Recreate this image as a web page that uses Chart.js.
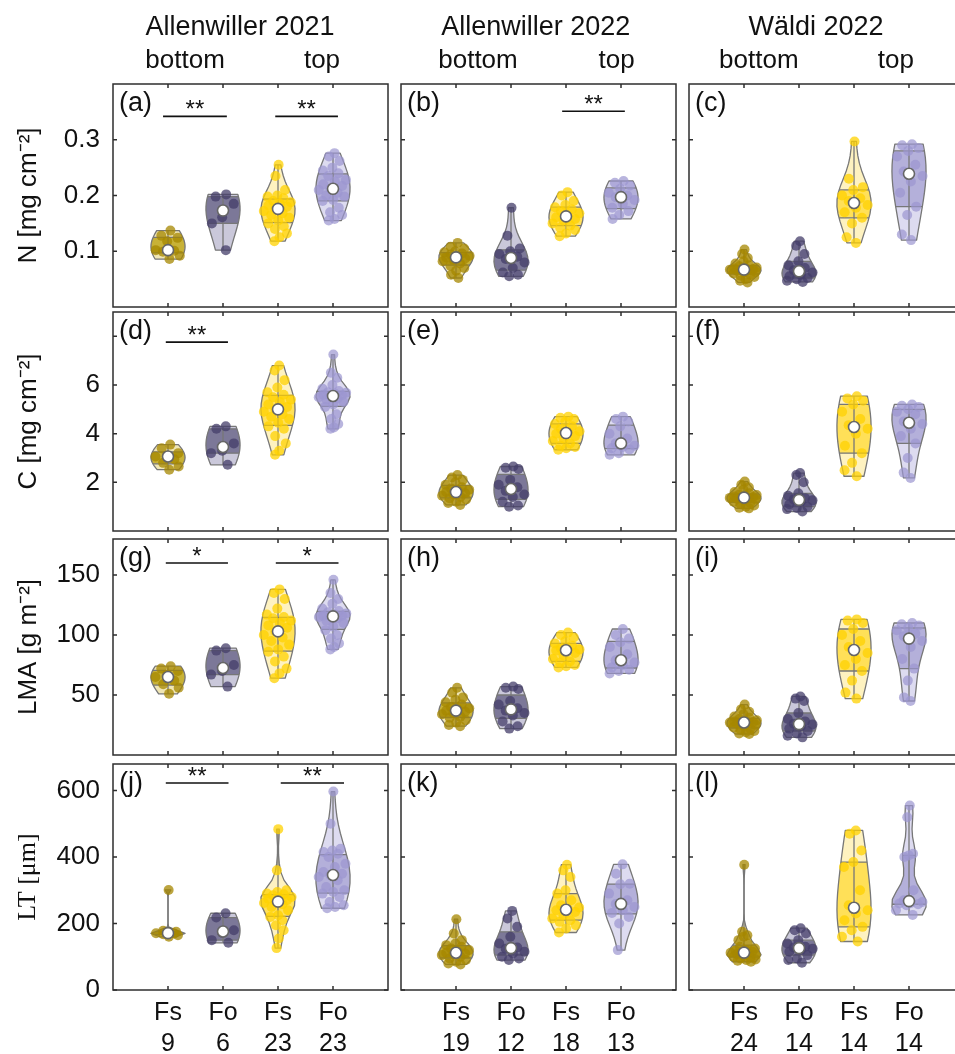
<!DOCTYPE html>
<html>
<head>
<meta charset="utf-8">
<script src="https://cdn.jsdelivr.net/npm/chart.js@4.4.0/dist/chart.umd.min.js"></script>
<style>
  html, body { margin: 0; padding: 0; background: #fff; width: 955px; height: 1054px; overflow: hidden; }
  canvas { position: absolute; }
</style>
</head>
<body>
<script>
// ----------------------- DATA -----------------------
// each panel: [Fs bottom, Fo bottom, Fs top, Fo top]
const groups = ["Fs", "Fo", "Fs", "Fo"];
const counts = [[9, 6, 23, 23], [19, 12, 18, 13], [24, 14, 14, 14]];
const siteTitles = ["Allenwiller 2021", "Allenwiller 2022", "Wäldi 2022"];
const yTitles = ["N [mg cm⁻²]", "C [mg cm⁻²]", "LMA [g m⁻²]", "LT [μm]"];
const yRanges = [[0, 0.4], [0, 9], [0, 180], [0, 680]];
const yTicks = [[0.1, 0.2, 0.3], [2, 4, 6, 8], [50, 100, 150], [0, 200, 400, 600]];
const yTickLabels = [["0.1", "0.2", "0.3"], ["2", "4", "6", ""], ["50", "100", "150"], ["0", "200", "400", "600"]];
const panelLetters = [["(a)", "(b)", "(c)"], ["(d)", "(e)", "(f)"], ["(g)", "(h)", "(i)"], ["(j)", "(k)", "(l)"]];

// significance bars: row, col, x from, x to, y value, stars
const sigBars = [
  [0, 0, 0.91, 2.07, 0.342, "**"],
  [0, 0, 2.95, 4.09, 0.342, "**"],
  [0, 1, 2.93, 4.07, 0.351, "**"],
  [1, 0, 0.96, 2.09, 7.76, "**"],
  [2, 0, 0.96, 2.09, 160, "*"],
  [2, 0, 2.96, 4.10, 160, "*"],
  [3, 0, 0.96, 2.10, 623, "**"],
  [3, 0, 3.05, 4.20, 623, "**"],
];

const N_A21 = [
  [0.137, 0.128, 0.124, 0.118, 0.102, 0.101, 0.099, 0.092, 0.086],
  [0.202, 0.198, 0.185, 0.161, 0.150, 0.102],
  [0.255, 0.235, 0.210, 0.200, 0.198, 0.195, 0.190, 0.188, 0.185, 0.182, 0.180, 0.176, 0.172, 0.168, 0.165, 0.160, 0.155, 0.150, 0.145, 0.140, 0.132, 0.125, 0.118],
  [0.276, 0.270, 0.262, 0.250, 0.245, 0.240, 0.235, 0.228, 0.225, 0.220, 0.217, 0.212, 0.210, 0.205, 0.200, 0.198, 0.192, 0.190, 0.178, 0.170, 0.165, 0.158, 0.155],
];
const N_A22 = [
  [0.115, 0.108, 0.105, 0.100, 0.098, 0.096, 0.094, 0.092, 0.090, 0.089, 0.087, 0.085, 0.082, 0.078, 0.074, 0.070, 0.065, 0.058, 0.052],
  [0.178, 0.128, 0.105, 0.100, 0.095, 0.090, 0.086, 0.080, 0.070, 0.062, 0.058, 0.055],
  [0.206, 0.200, 0.190, 0.183, 0.179, 0.175, 0.172, 0.168, 0.164, 0.161, 0.158, 0.155, 0.150, 0.146, 0.142, 0.138, 0.132, 0.127],
  [0.226, 0.223, 0.218, 0.212, 0.205, 0.200, 0.197, 0.192, 0.185, 0.178, 0.172, 0.165, 0.158],
];
const N_W22 = [
  [0.103, 0.095, 0.088, 0.082, 0.078, 0.075, 0.073, 0.071, 0.070, 0.069, 0.068, 0.067, 0.067, 0.066, 0.065, 0.063, 0.062, 0.060, 0.058, 0.056, 0.054, 0.050, 0.047, 0.044],
  [0.118, 0.110, 0.095, 0.082, 0.075, 0.070, 0.066, 0.062, 0.058, 0.055, 0.052, 0.050, 0.047, 0.045],
  [0.297, 0.230, 0.215, 0.210, 0.200, 0.195, 0.190, 0.183, 0.178, 0.170, 0.160, 0.150, 0.125, 0.115],
  [0.292, 0.290, 0.285, 0.280, 0.270, 0.255, 0.243, 0.235, 0.225, 0.205, 0.180, 0.165, 0.130, 0.120],
];

const C_A21 = [
  [3.55, 3.40, 3.20, 3.10, 3.06, 2.95, 2.80, 2.65, 2.52],
  [4.30, 4.20, 3.60, 3.30, 3.20, 2.72],
  [6.80, 6.60, 6.20, 5.90, 5.70, 5.60, 5.50, 5.40, 5.30, 5.20, 5.10, 5.00, 4.90, 4.80, 4.70, 4.60, 4.45, 4.30, 4.20, 3.90, 3.60, 3.30, 3.13],
  [7.25, 6.50, 6.30, 6.00, 5.85, 5.75, 5.70, 5.68, 5.65, 5.60, 5.58, 5.55, 5.50, 5.45, 5.40, 5.30, 5.20, 5.10, 4.80, 4.60, 4.40, 4.25, 4.20],
];
const C_A22 = [
  [2.30, 2.20, 2.10, 2.00, 1.90, 1.80, 1.75, 1.70, 1.65, 1.60, 1.55, 1.50, 1.45, 1.40, 1.35, 1.30, 1.20, 1.15, 1.07],
  [2.65, 2.60, 2.55, 2.10, 1.90, 1.80, 1.65, 1.50, 1.40, 1.20, 1.05, 1.00],
  [4.70, 4.65, 4.60, 4.50, 4.40, 4.30, 4.20, 4.10, 4.05, 4.00, 3.90, 3.80, 3.70, 3.60, 3.50, 3.45, 3.40, 3.34],
  [4.70, 4.60, 4.50, 4.30, 4.00, 3.80, 3.60, 3.50, 3.45, 3.40, 3.35, 3.20, 3.13],
];
const C_W22 = [
  [2.03, 1.90, 1.80, 1.70, 1.60, 1.55, 1.50, 1.48, 1.45, 1.42, 1.40, 1.38, 1.36, 1.34, 1.32, 1.30, 1.25, 1.20, 1.15, 1.10, 1.05, 1.00, 0.96, 0.93],
  [2.38, 2.30, 2.00, 1.55, 1.45, 1.35, 1.30, 1.26, 1.20, 1.10, 1.00, 0.95, 0.90, 0.80],
  [5.54, 5.45, 5.35, 5.20, 4.90, 4.60, 4.35, 4.20, 4.00, 3.50, 3.20, 2.80, 2.50, 2.25],
  [5.20, 5.15, 5.10, 5.00, 4.90, 4.80, 4.50, 4.40, 4.20, 3.90, 3.60, 3.00, 2.40, 2.18],
];

const LMA_A21 = [
  [74, 72, 70, 67, 65, 62, 59, 56, 51],
  [89, 87, 75, 70, 67, 57],
  [138, 135, 130, 122, 117, 115, 114, 112, 110, 108, 106, 103, 100, 98, 95, 92, 88, 86, 82, 78, 72, 68, 64],
  [146, 135, 130, 126, 122, 120, 119, 118, 117, 116, 116, 115.5, 115, 114, 112, 110, 107, 104, 100, 97, 93, 90, 88],
];
const LMA_A22 = [
  [56, 52, 48, 46, 44, 42, 40, 39, 38, 37, 36, 35, 34, 32, 31, 29, 27, 25, 24],
  [57, 56, 55, 45, 42, 39, 37, 35, 33, 28, 24, 22],
  [102, 100, 98, 95, 93, 91, 89, 88, 87.5, 87, 85, 83, 80, 78, 77, 75, 74, 73],
  [105, 100, 97, 94, 90, 84, 79, 77, 75, 73, 71, 70, 68],
];
const LMA_W22 = [
  [42, 38, 36, 34, 32, 31, 30, 29, 28.5, 28, 27.5, 27.2, 27, 26.5, 26, 25, 24, 23, 22, 21, 20, 19, 18, 17.5],
  [48.8, 47, 45, 35, 30, 28, 26, 25.5, 24, 22, 20, 18, 16, 14.7],
  [113, 112, 110, 105, 100, 95, 90, 85, 80, 75, 70, 62, 52, 47],
  [110, 109, 108, 106, 104, 101, 99, 95, 90, 80, 72, 62, 48, 45],
];

const LT_A21 = [
  [301, 178, 175, 173, 171, 170, 168, 165, 160],
  [231, 218, 180, 172, 150, 142],
  [484, 360, 300, 295, 290, 288, 285, 280, 278, 275, 270, 266, 262, 258, 250, 240, 225, 220, 210, 195, 180, 155, 126],
  [597, 500, 425, 420, 415, 410, 400, 380, 370, 355, 350, 346, 340, 330, 310, 300, 295, 290, 280, 265, 255, 250, 246],
];
const LT_A22 = [
  [213, 170, 150, 140, 135, 130, 125, 120, 115, 112, 110, 108, 105, 100, 95, 90, 85, 80, 77],
  [238, 215, 190, 160, 140, 128, 124, 115, 110, 100, 95, 90],
  [377, 360, 340, 300, 290, 270, 255, 248, 243, 240, 235, 225, 215, 210, 205, 195, 185, 173],
  [378, 350, 320, 318, 290, 270, 259, 250, 240, 232, 220, 200, 120],
];
const LT_W22 = [
  [377, 175, 165, 160, 150, 140, 130, 125, 120, 118, 115, 113, 112, 110, 108, 105, 102, 100, 98, 95, 92, 90, 88, 85],
  [186, 180, 170, 150, 140, 130, 128, 124, 120, 115, 105, 95, 90, 82],
  [480, 470, 420, 385, 370, 300, 255, 240, 230, 210, 190, 180, 160, 146],
  [555, 520, 410, 405, 400, 300, 270, 265, 262, 260, 258, 255, 240, 226],
];

const panels = [
  [N_A21, N_A22, N_W22],
  [C_A21, C_A22, C_W22],
  [LMA_A21, LMA_A22, LMA_W22],
  [LT_A21, LT_A22, LT_W22],
];

// ----------------------- LOOK -----------------------
const SANS = '"Liberation Sans", Arial, sans-serif';
const SERIF = '"Liberation Serif", "Times New Roman", serif';
const TXT = "#111";
const FRAME = "#2e2e2e";
const VLINE = "#777";
const PAL = [
  { light: "rgb(240,230,180)", dark: "rgb(200,178,55)", dot: "rgba(165,135,0,0.75)" },
  { light: "rgb(202,200,218)", dark: "rgb(124,120,152)", dot: "rgba(68,62,106,0.75)" },
  { light: "rgb(254,242,192)", dark: "rgb(255,224,88)", dot: "rgba(255,210,0,0.75)" },
  { light: "rgb(221,219,240)", dark: "rgb(180,176,218)", dot: "rgba(155,150,208,0.7)" },
];
const COL_LEFT = [113, 401, 689];
const ROW_TOP = [84, 312, 539, 764];
const ROW_H = [223, 219, 216, 226];
const BOX_W = 275;
const HALF_W = 0.31; // max violin half width in x units
const BW_SCALE = 1.5; // smoother than the plain rule-of-thumb bandwidth
const N_SEG = 14;
// header positions (x units) per column: title, bottom, top
const headPos = [[2.31, 1.31, 3.8], [2.45, 1.4, 3.92], [2.31, 1.27, 3.76]];

// ----------------------- UTIL -----------------------
function quantile(vals, p) {
  const s = [...vals].sort((a, b) => a - b), n = s.length;
  const pos = p * n - 0.5;
  if (pos <= 0) return s[0];
  if (pos >= n - 1) return s[n - 1];
  const i = Math.floor(pos);
  return s[i] + (pos - i) * (s[i + 1] - s[i]);
}

// ksdensity-style bandwidth
function bandwidth(vals) {
  const med = quantile(vals, 0.5);
  let sig = quantile(vals.map((v) => Math.abs(v - med)), 0.5) / 0.6745;
  if (!sig) {
    const m = vals.reduce((a, b) => a + b, 0) / vals.length;
    sig = Math.sqrt(vals.reduce((a, v) => a + (v - m) ** 2, 0) / vals.length) || 1;
  }
  return BW_SCALE * sig * Math.pow(4 / (3 * vals.length), 0.2);
}

function violinShape(vals) {
  const s = [...vals].sort((a, b) => a - b);
  const lo = s[0], hi = s[s.length - 1];
  const bw = bandwidth(s);
  const dens = (t) => s.reduce((acc, v) => acc + Math.exp(-0.5 * ((t - v) / bw) ** 2), 0);
  const grid = [];
  for (let i = 0; i <= N_SEG; i++) grid.push(lo + ((hi - lo) * i) / N_SEG);
  const d = grid.map(dens);
  const dmax = Math.max(...d);
  const halves = d.map((v) => (HALF_W * v) / dmax);
  const halfAt = (t) => {
    if (t <= lo) return halves[0];
    if (t >= hi) return halves[N_SEG];
    const f = ((t - lo) / (hi - lo)) * N_SEG;
    const i = Math.min(Math.floor(f), N_SEG - 1);
    return halves[i] + (f - i) * (halves[i + 1] - halves[i]);
  };
  return { lo, hi, grid, halfAt, q1: quantile(s, 0.25), med: quantile(s, 0.5), q3: quantile(s, 0.75) };
}

function tracePath(ctx, x, y, pos, s, a, b) {
  const ts = [a, ...s.grid.filter((t) => t > a && t < b), b];
  ctx.beginPath();
  ts.forEach((t, i) => {
    const px = x.getPixelForValue(pos + s.halfAt(t)), py = y.getPixelForValue(t);
    if (i) ctx.lineTo(px, py); else ctx.moveTo(px, py);
  });
  for (let i = ts.length - 1; i >= 0; i--) {
    ctx.lineTo(x.getPixelForValue(pos - s.halfAt(ts[i])), y.getPixelForValue(ts[i]));
  }
  ctx.closePath();
}

// deterministic spread of dots inside the violin
const jit = (k) => (((k + 1) * 0.618034) % 1) * 2 - 1;

// ----------------------- PLUGIN -----------------------
const panelPlugin = {
  id: "panel",
  beforeDatasetsDraw(chart, args, o) {
    const { ctx, scales: { x, y } } = chart;
    ctx.save();
    o.shapes.forEach((s, i) => {
      const pos = i + 1;
      tracePath(ctx, x, y, pos, s, s.lo, s.hi);
      ctx.fillStyle = PAL[i].light;
      ctx.fill();
      tracePath(ctx, x, y, pos, s, s.q1, s.q3);
      ctx.fillStyle = PAL[i].dark;
      ctx.fill();
      ctx.strokeStyle = VLINE;
      ctx.lineWidth = 1.3;
      ctx.lineJoin = "round";
      tracePath(ctx, x, y, pos, s, s.lo, s.hi);
      ctx.stroke();
      ctx.beginPath();
      [s.q1, s.q3].forEach((q) => {
        const h = s.halfAt(q);
        ctx.moveTo(x.getPixelForValue(pos - h), y.getPixelForValue(q));
        ctx.lineTo(x.getPixelForValue(pos + h), y.getPixelForValue(q));
      });
      ctx.moveTo(x.getPixelForValue(pos), y.getPixelForValue(s.lo));
      ctx.lineTo(x.getPixelForValue(pos), y.getPixelForValue(s.hi));
      ctx.stroke();
    });
    ctx.restore();
  },
  afterDraw(chart, args, o) {
    const { ctx, chartArea: { left, right, top, bottom }, scales: { x, y } } = chart;
    const { r, c } = o;
    ctx.save();
    // frame + inward ticks
    ctx.strokeStyle = FRAME;
    ctx.lineWidth = 1.5;
    ctx.strokeRect(left, top, right - left, bottom - top);
    ctx.beginPath();
    yTicks[r].forEach((v) => {
      const py = y.getPixelForValue(v);
      ctx.moveTo(left, py); ctx.lineTo(left + 4, py);
      ctx.moveTo(right, py); ctx.lineTo(right - 4, py);
    });
    [1, 2, 3, 4].forEach((v) => {
      const px = x.getPixelForValue(v);
      ctx.moveTo(px, top); ctx.lineTo(px, top + 4);
      ctx.moveTo(px, bottom); ctx.lineTo(px, bottom - 4);
    });
    ctx.stroke();
    // panel letter
    ctx.fillStyle = TXT;
    ctx.font = "27px " + SANS;
    ctx.textBaseline = "middle";
    ctx.textAlign = "left";
    ctx.fillText(panelLetters[r][c], left + 6, top + 20);
    // significance bars
    sigBars.filter((b) => b[0] === r && b[1] === c).forEach((b) => {
      const x1 = x.getPixelForValue(b[2]), x2 = x.getPixelForValue(b[3]), py = y.getPixelForValue(b[4]);
      ctx.strokeStyle = "#111";
      ctx.lineWidth = 1.6;
      ctx.beginPath();
      ctx.moveTo(x1, py); ctx.lineTo(x2, py);
      ctx.stroke();
      ctx.textAlign = "center";
      ctx.textBaseline = "alphabetic";
      ctx.font = "24px " + SANS;
      ctx.fillText(b[5], (x1 + x2) / 2, py + 1);
    });
    // column headers
    if (r === 0) {
      ctx.textAlign = "center";
      ctx.textBaseline = "alphabetic";
      ctx.font = "27px " + SANS;
      ctx.fillText(siteTitles[c], x.getPixelForValue(headPos[c][0]), 35);
      ctx.font = "26px " + SANS;
      ctx.fillText("bottom", x.getPixelForValue(headPos[c][1]), 68);
      ctx.fillText("top", x.getPixelForValue(headPos[c][2]), 68);
    }
    ctx.restore();
  },
};

// ----------------------- BUILD CHARTS -----------------------
function makeChart(r, c) {
  const padL = c === 0 ? 113 : 2, padT = r === 0 ? 84 : 2, padB = r === 3 ? 64 : 2;
  const w = padL + BOX_W + 2, h = padT + ROW_H[r] + padB;
  const cv = document.createElement("canvas");
  cv.width = w; cv.height = h;
  cv.style.width = w + "px"; cv.style.height = h + "px";
  cv.style.left = COL_LEFT[c] - padL + "px";
  cv.style.top = ROW_TOP[r] - padT + "px";
  document.body.appendChild(cv);

  const sets = panels[r][c];
  const shapes = sets.map(violinShape);
  const datasets = [{
    data: shapes.map((s, i) => ({ x: i + 1, y: s.med })),
    pointRadius: 5.5, pointBackgroundColor: "#fff", pointBorderColor: "#666", pointBorderWidth: 1.6,
  }];
  sets.forEach((vals, i) => {
    datasets.push({
      data: vals.map((v, k) => ({ x: i + 1 + jit(k) * shapes[i].halfAt(v) * 0.9, y: v })),
      pointRadius: 5, pointBackgroundColor: PAL[i].dot, pointBorderWidth: 0,
    });
  });

  const showX = r === 3, showY = c === 0;
  new Chart(cv, {
    type: "scatter",
    data: { datasets },
    options: {
      responsive: false, animation: false, events: [], devicePixelRatio: 1,
      layout: { autoPadding: false, padding: { left: showY ? 0 : 2, top: padT, right: 2, bottom: showX ? 0 : 2 } },
      plugins: { legend: { display: false }, tooltip: { enabled: false }, panel: { r, c, shapes } },
      scales: {
        x: {
          type: "linear", min: 0, max: 5, display: showX,
          grid: { display: false, drawTicks: false }, border: { display: false },
          afterBuildTicks: (s) => { s.ticks = [1, 2, 3, 4].map((v) => ({ value: v })); },
          ticks: {
            callback: (v) => [groups[v - 1], String(counts[c][v - 1])],
            font: { size: 25, family: SANS, lineHeight: 1.24 }, color: TXT, padding: 8,
            maxRotation: 0, autoSkip: false,
          },
          afterFit: (s) => { s.height = showX ? 64 : 0; s.paddingLeft = 0; s.paddingRight = 0; },
        },
        y: {
          type: "linear", min: yRanges[r][0], max: yRanges[r][1], display: showY,
          grid: { display: false, drawTicks: false }, border: { display: false },
          afterBuildTicks: (s) => { s.ticks = yTicks[r].map((v) => ({ value: v })); },
          ticks: {
            callback: (v, i) => yTickLabels[r][i],
            font: { size: 26, family: SANS }, color: TXT, padding: 13, autoSkip: false,
          },
          title: {
            display: true, text: yTitles[r], color: TXT,
            font: { size: 26, family: r === 3 ? SERIF : SANS },
            padding: { top: 13, bottom: 0 },
          },
          afterFit: (s) => { s.width = showY ? 113 : 0; s.paddingTop = 0; s.paddingBottom = 0; },
        },
      },
    },
    plugins: [panelPlugin],
  });
}

for (let r = 0; r < 4; r++) for (let c = 0; c < 3; c++) makeChart(r, c);
</script>
</body>
</html>
